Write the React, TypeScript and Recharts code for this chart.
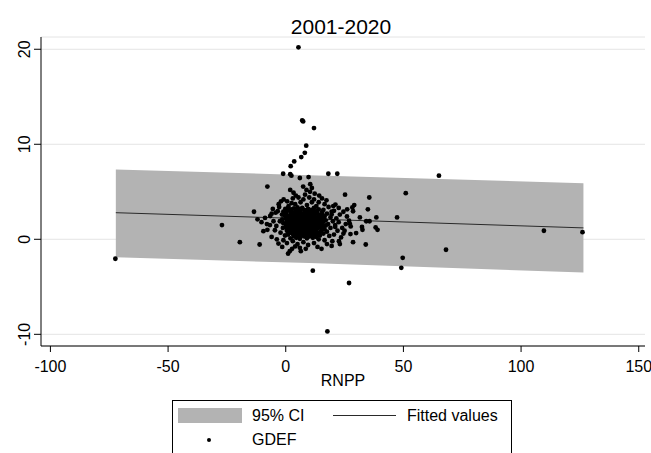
import { Area, CartesianGrid, ComposedChart, Line, Scatter, XAxis, YAxis } from 'recharts'

// fitted line + 95% CI band, read at the ends of the band and near the mean of RNPP
const ciX = [-72.2, 10, 126.5]
const ciLow = [-1.9, -2.5, -3.5]
const ciHigh = [7.35, 6.75, 5.9]
const fitted = [2.8, 2.15, 1.2]

const xTicks = [-100, -50, 0, 50, 100, 150]
const yTicks = [-10, 0, 10, 20]

// GDEF against RNPP
const gdef: [number, number][] = [
  // outliers
  [5.4, 20.2], [7.0, 12.5], [7.4, 12.4], [12.0, 11.7], [8.7, 9.85], [8.1, 9.1], [6.6, 8.65],
  [3.6, 8.2], [2.1, 7.7], [-1.1, 6.9], [1.9, 6.85], [2.4, 6.7], [6.0, 6.45], [9.7, 6.55],
  [18.1, 6.9], [21.9, 6.9], [65.1, 6.7], [-7.8, 5.55], [7.4, 5.55], [10.4, 5.8], [11.1, 5.4],
  [51.0, 4.85], [25.2, 4.7], [35.5, 4.4], [47.3, 2.3], [-13.5, 2.9], [-27.1, 1.5], [-19.5, -0.3],
  [-11.1, -0.55], [-72.4, -2.05], [109.7, 0.9], [126.1, 0.75], [68.1, -1.1], [49.7, -1.95],
  [49.1, -3.0], [11.5, -3.3], [26.9, -4.6], [17.7, -9.7],
  // middle range
  [34.9, 3.15], [38.5, 2.3], [38.2, 1.25], [39.0, 1.0], [34.0, -0.55], [28.6, -0.3], [22.6, -0.2],
  [15.2, -1.0], [6.4, -1.25], [1.0, -1.5], [1.7, -1.25], [2.7, -1.0], [4.0, -0.75], [29.1, 3.6],
  [28.3, 3.35], [28.6, 2.95], [26.1, 3.15], [26.9, 1.95], [27.2, 1.65], [27.6, 1.35], [32.4, 1.3],
  [32.6, 1.0], [31.5, 2.3], [34.2, 1.9], [35.6, 1.9], [29.9, 0.65], [27.5, 0.55], [24.5, 0.6],
  [21.1, 3.65], [20.2, 3.5],
  // left side of the cloud
  [-12.0, 2.1], [-10.3, 1.8], [-9.5, 0.85], [-8.8, 2.25], [-7.8, 1.0], [-6.7, 1.5], [-6.6, 2.45],
  [-6.0, 2.7], [-6.0, 0.25], [-4.6, 0.95], [-4.3, 2.8], [-3.8, 0.0], [-3.4, 2.95], [-3.1, -0.45],
  [-2.0, 4.0], [-1.0, -0.1], [-0.9, 4.2], [-0.3, 0.4], [-5.2, 1.9], [-4.0, 1.4], [-2.5, 1.9],
  [-2.8, 3.4], [-1.6, 2.6], [-2.2, 0.7], [-1.2, 1.2], [-8.0, 1.6], [-5.5, 3.2], [-3.0, 3.7],
  // upper part
  [1.9, 5.2], [3.3, 4.9], [4.3, 4.6], [8.8, 5.2], [10.3, 5.0], [12.3, 4.8], [14.2, 4.6],
  [15.4, 4.3], [0.6, 4.0], [5.4, 4.4], [7.5, 4.2], [11.1, 3.9], [16.5, 3.7], [18.2, 3.4],
  [2.5, 3.8], [6.3, 3.9], [9.0, 3.6], [13.0, 3.5], [1.2, 3.5], [4.0, 3.7], [17.3, 4.1],
  [19.5, 2.9], [8.2, 4.7], [3.0, 4.3], [-0.2, 3.2], [10.0, 4.4], [12.0, 4.2], [14.0, 3.9],
  // dense core
  [1.0, 3.3], [3.5, 3.25], [5.0, 3.35], [7.0, 3.3], [9.5, 3.2], [12.0, 3.3], [14.0, 3.15], [16.0, 3.1],
  [-1.0, 2.9], [0.5, 2.95], [2.5, 2.85], [4.0, 2.9], [6.0, 2.95], [8.0, 2.85], [10.0, 2.9],
  [11.5, 2.95], [13.0, 2.85], [15.5, 2.9], [17.5, 2.7],
  [-0.5, 2.5], [1.5, 2.45], [3.0, 2.55], [4.5, 2.5], [6.5, 2.45], [8.5, 2.55], [10.0, 2.5],
  [12.0, 2.45], [14.0, 2.55], [16.5, 2.4], [19.0, 2.3],
  [-1.5, 2.1], [0.0, 2.15], [2.0, 2.05], [3.5, 2.1], [5.5, 2.15], [7.0, 2.05], [9.0, 2.1],
  [10.5, 2.15], [12.5, 2.05], [14.5, 2.1], [17.0, 2.0], [20.0, 1.9],
  [-1.0, 1.7], [0.5, 1.75], [2.5, 1.65], [4.0, 1.7], [6.0, 1.75], [7.5, 1.65], [9.5, 1.7],
  [11.0, 1.75], [13.0, 1.65], [15.0, 1.7], [18.0, 1.6], [21.0, 1.5],
  [0.0, 1.3], [1.5, 1.35], [3.0, 1.25], [5.0, 1.3], [6.5, 1.35], [8.0, 1.25], [10.0, 1.3],
  [12.0, 1.35], [14.0, 1.25], [16.0, 1.3], [19.0, 1.2],
  [0.5, 0.9], [2.0, 0.95], [4.0, 0.85], [5.5, 0.9], [7.5, 0.95], [9.0, 0.85], [11.0, 0.9],
  [13.0, 0.95], [15.0, 0.85], [17.5, 0.8],
  [1.0, 0.5], [3.0, 0.55], [5.0, 0.45], [7.0, 0.5], [8.5, 0.55], [10.5, 0.45], [12.5, 0.5],
  [14.5, 0.4], [18.5, 0.35],
  [2.0, 0.1], [4.5, 0.15], [6.0, 0.05], [9.0, 0.1], [11.5, 0.15], [14.0, 0.0], [16.5, -0.1],
  [1.8, 3.05], [4.8, 3.05], [7.8, 3.1], [10.8, 3.1], [13.5, 3.05],
  [2.2, 2.7], [5.2, 2.7], [7.3, 2.7], [9.2, 2.7], [11.0, 2.7], [13.5, 2.7],
  [0.8, 2.3], [2.8, 2.3], [4.8, 2.3], [6.3, 2.3], [8.0, 2.3], [9.8, 2.3], [11.5, 2.3],
  [13.5, 2.3], [15.5, 2.25],
  [1.0, 1.95], [3.0, 1.9], [4.8, 1.9], [6.5, 1.9], [8.2, 1.9], [10.0, 1.9], [11.8, 1.9],
  [13.8, 1.9], [16.0, 1.85],
  [1.5, 1.5], [3.2, 1.5], [5.2, 1.5], [7.0, 1.5], [8.8, 1.5], [10.6, 1.5], [12.5, 1.5],
  [14.5, 1.5], [17.0, 1.45],
  [1.0, 1.1], [2.6, 1.1], [4.5, 1.1], [6.2, 1.1], [8.5, 1.1], [10.5, 1.1], [12.5, 1.1], [16.5, 1.05],
  [2.0, 0.7], [4.0, 0.7], [6.3, 0.7], [8.0, 0.75], [9.8, 0.7], [11.8, 0.7], [14.0, 0.65], [16.0, 0.6],
  [3.5, 0.3], [7.8, 0.3], [10.0, 0.3], [13.0, 0.25],
  // extra fill in the solid middle of the cloud
  [2.3, 3.15], [6.0, 3.15], [8.8, 3.0], [11.8, 3.05], [0.2, 2.7], [3.6, 2.7], [6.2, 2.6],
  [8.4, 2.65], [12.2, 2.65], [14.8, 2.6], [1.9, 2.25], [3.9, 2.3], [5.6, 2.35], [7.2, 2.25],
  [9.0, 2.35], [10.8, 2.35], [12.6, 2.25], [14.5, 2.35], [2.0, 1.85], [4.0, 1.95], [5.6, 1.9],
  [7.3, 1.85], [9.1, 1.95], [11.0, 2.0], [12.8, 1.85], [14.9, 1.9], [0.6, 1.5], [2.4, 1.45],
  [4.3, 1.45], [6.0, 1.55], [7.9, 1.45], [9.7, 1.55], [11.5, 1.45], [13.4, 1.5], [2.0, 1.2],
  [3.6, 1.05], [5.4, 1.15], [7.3, 1.15], [9.4, 1.2], [11.3, 1.2], [13.4, 1.15], [1.4, 0.75],
  [3.0, 0.8], [5.0, 0.7], [7.0, 0.8], [8.9, 0.7], [10.8, 0.75], [12.9, 0.7], [4.2, 0.45],
  [6.2, 0.35], [9.4, 0.45], [11.6, 0.45], [15.6, 2.6], [16.2, 2.05], [15.7, 1.45], [15.2, 1.1],
  // lower fringe
  [0.5, -0.4], [3.0, -0.2], [5.0, -0.5], [7.5, -0.3], [9.5, -0.6], [12.0, -0.4], [13.5, -0.8],
  [17.5, -0.5], [19.5, -0.7], [6.0, -0.9], [8.5, -1.0], [-1.5, -0.8],
  // right fringe
  [19.5, 2.6], [20.5, 3.0], [21.5, 2.2], [22.5, 1.8], [23.0, 2.6], [24.0, 1.2], [22.0, 0.9],
  [20.5, 0.5], [23.5, 0.2], [25.5, 1.6], [26.0, 2.4], [21.0, 1.3], [24.5, 2.9], [22.5, 3.3],
  [25.0, 0.9], [19.8, -0.2], [23.0, -0.5],
]

const bandRows = ciX.map((x, i) => ({ x, ci: [ciLow[i], ciHigh[i]], fit: fitted[i] }))
const points = gdef.map(([x, y]) => ({ x, y }))

const FONT = '"Liberation Sans", Arial, sans-serif'

function YTick({ y, payload }: any) {
  return (
    <text
      x={25}
      y={y}
      transform={`rotate(-90, 25, ${y})`}
      textAnchor='middle'
      dominantBaseline='central'
      fontSize={16}
      fill='#000'
    >
      {payload.value}
    </text>
  )
}

function Dot({ cx, cy }: any) {
  return <circle cx={cx} cy={cy} r={2.4} fill='#000' />
}

export default function App() {
  return (
    <div
      style={{
        position: 'absolute',
        left: 0,
        top: 0,
        width: 651,
        height: 453,
        overflow: 'hidden',
        background: '#fff',
        fontFamily: FONT,
        color: '#000',
      }}
    >
      <div
        style={{
          position: 'absolute',
          left: 41,
          width: 600,
          top: 16,
          textAlign: 'center',
          fontSize: 21,
          lineHeight: '21px',
        }}
      >
        2001-2020
      </div>
      <ComposedChart
        width={651}
        height={453}
        data={bandRows}
        margin={{ top: 37, right: 6, bottom: 67, left: 0 }}
      >
        <CartesianGrid vertical={false} stroke='#e4e4e4' strokeWidth={1} />
        <XAxis
          type='number'
          dataKey='x'
          domain={[-104, 152.66]}
          ticks={xTicks}
          allowDataOverflow
          height={40}
          tickSize={6}
          tickMargin={9}
          stroke='#000'
          tick={{ fill: '#000', fontSize: 16 }}
          label={{ value: 'RNPP', position: 'insideBottom', offset: 0, fill: '#000', fontSize: 16 }}
        />
        <YAxis
          type='number'
          domain={[-11.23, 21.29]}
          ticks={yTicks}
          allowDataOverflow
          width={41}
          tickSize={7}
          stroke='#000'
          tick={YTick}
        />
        <Area
          type='linear'
          dataKey='ci'
          fill='#b3b3b3'
          fillOpacity={1}
          stroke='none'
          isAnimationActive={false}
        />
        <Line
          type='linear'
          dataKey='fit'
          stroke='#2a2a2a'
          strokeWidth={1}
          dot={false}
          isAnimationActive={false}
        />
        <Scatter data={points} dataKey='y' shape={Dot} isAnimationActive={false} />
      </ComposedChart>
      <div
        style={{
          position: 'absolute',
          left: 172,
          top: 400,
          width: 340,
          height: 70,
          border: '1px solid #000',
          boxSizing: 'border-box',
          fontSize: 16,
          lineHeight: '16px',
        }}
      >
        <div style={{ position: 'absolute', left: 5, top: 7, width: 64, height: 15, background: '#b3b3b3' }} />
        <span style={{ position: 'absolute', left: 79, top: 7, whiteSpace: 'nowrap' }}>95% CI</span>
        <div style={{ position: 'absolute', left: 160, top: 14, width: 63, height: 1, background: '#2a2a2a' }} />
        <span style={{ position: 'absolute', left: 234, top: 7, whiteSpace: 'nowrap' }}>Fitted values</span>
        <div
          style={{ position: 'absolute', left: 34, top: 37, width: 4, height: 4, borderRadius: 2, background: '#000' }}
        />
        <span style={{ position: 'absolute', left: 79, top: 31, whiteSpace: 'nowrap' }}>GDEF</span>
      </div>
    </div>
  )
}
